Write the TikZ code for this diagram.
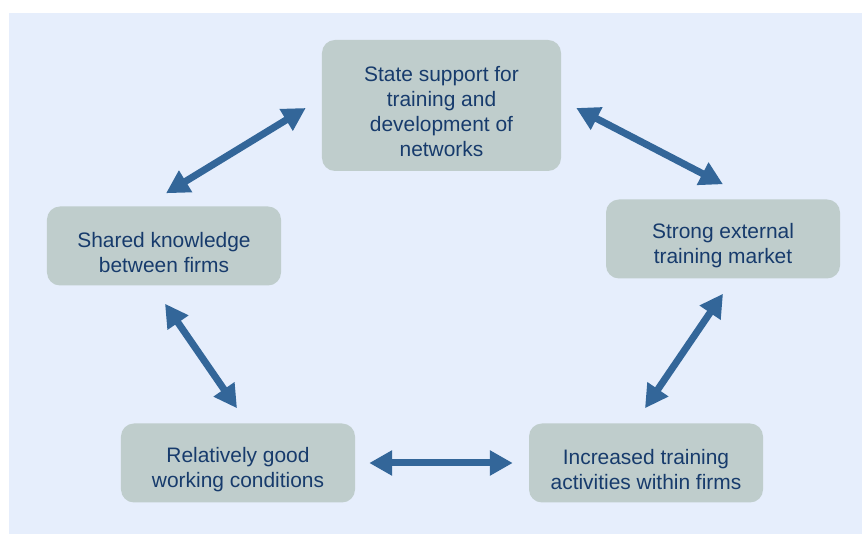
\documentclass[tikz,border=0pt]{standalone}
\usepackage{fontspec}
\setmainfont{Liberation Sans}
\usetikzlibrary{arrows.meta}
\definecolor{bgblue}{HTML}{E6EEFC}
\definecolor{boxgrey}{HTML}{BFCDCC}
\definecolor{txtblue}{HTML}{173B6C}
\definecolor{arrblue}{HTML}{336699}
\newcommand{\tgap}{\rule{0pt}{0.83cm}}
\tikzset{box/.style={fill=boxgrey,rounded corners=0.39cm,align=center,text=txtblue,
		font=\fontsize{17.86pt}{21.3pt}\selectfont,minimum width=7.02cm,minimum height=2.37cm,inner sep=0pt},
	link/.style={arrblue,line width=0.21cm,{Triangle[length=0.69cm,width=0.72cm]}-{Triangle[length=0.69cm,width=0.72cm]}}}
\begin{document}
\begin{tikzpicture}[x=0.03cm,y=0.03cm]
	\useasboundingbox (0,0) rectangle (862,534);
	\fill[bgblue] (9,0) rectangle (862,521);
	\node[box,minimum width=7.17cm,minimum height=3.93cm] (S) at (441.5,428.5) {\tgap State support for\\training and\\development of\\networks};
	\node[box] (K) at (164,288) {\tgap Shared knowledge\\between firms};
	\node[box] (M) at (723,295) {\tgap Strong external\\training market};
	\node[box] (W) at (238,71) {\tgap Relatively good\\working conditions};
	\node[box] (T) at (646,71) {\tgap Increased training\\activities within firms};
	% arrow ends
	\path ([shift={(2,13)}]K.north)coordinate(k1) ([shift={(-16,-2.5)}]S.west)coordinate(s1)
		([shift={(15,-2.5)}]S.east)coordinate(s2) ([shift={(0,15)}]M.north)coordinate(m1)
		([shift={(0,-15)}]M.south)coordinate(m2) ([shift={(-1,15)}]T.north)coordinate(t1)
		([shift={(1,-18)}]K.south)coordinate(k2) ([shift={(-1,15)}]W.north)coordinate(w1)
		([shift={(14,0)}]W.east)coordinate(w2) ([shift={(-16,0)}]T.west)coordinate(t2);
	\foreach \u/\v in {k1/s1,s2/m1,m2/t1,k2/w1,w2/t2}\draw[link] (\u)--(\v);
\end{tikzpicture}
\end{document}
